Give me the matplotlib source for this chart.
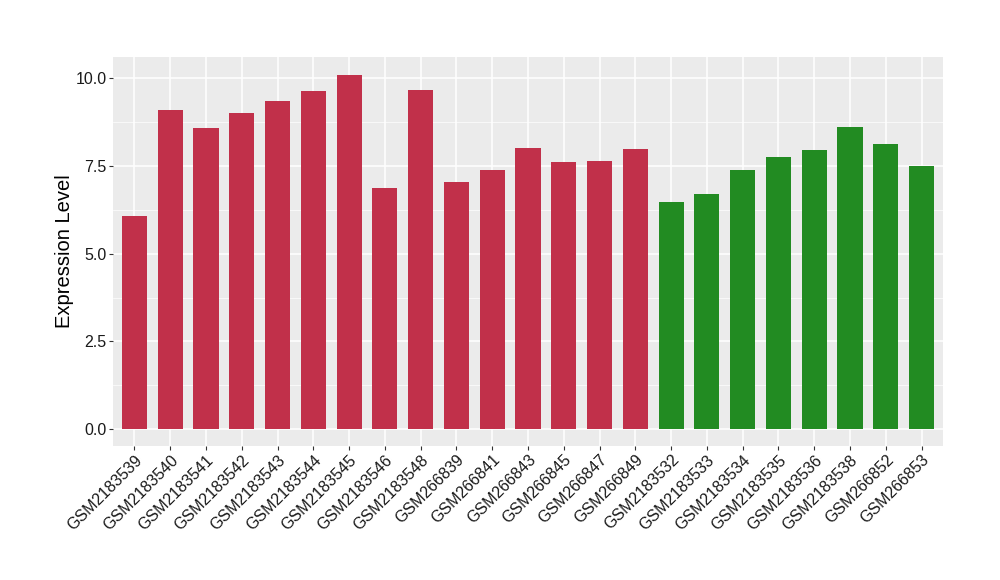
import matplotlib
matplotlib.use("Agg")
import matplotlib.pyplot as plt
import numpy as np

plt.rcParams['font.family'] = ['Liberation Sans', 'DejaVu Sans']

samples = ["GSM2183539", "GSM2183540", "GSM2183541", "GSM2183542", "GSM2183543",
           "GSM2183544", "GSM2183545", "GSM2183546", "GSM2183548", "GSM266839",
           "GSM266841", "GSM266843", "GSM266845", "GSM266847", "GSM266849",
           "GSM2183532", "GSM2183533", "GSM2183534", "GSM2183535", "GSM2183536",
           "GSM2183538", "GSM266852", "GSM266853"]
values = [6.07, 9.08, 8.57, 9.0, 9.36, 9.62, 10.1, 6.86, 9.65, 7.03,
          7.37, 8.02, 7.6, 7.65, 7.97,
          6.46, 6.69, 7.37, 7.74, 7.94, 8.62, 8.11, 7.51]
groups = ["a"] * 15 + ["b"] * 8
group_colors = {"a": "#C1304A", "b": "#228B22"}

fig = plt.figure(figsize=(10, 5.8), dpi=100)
ax = fig.add_axes([0.113, 0.231, 0.83, 0.6707])
ax.set_facecolor("#EBEBEB")

x = np.arange(len(samples))
ax.bar(x, values, width=0.7, color=[group_colors[g] for g in groups], zorder=3)

ax.set_xlim(-0.6, len(samples) - 0.4)
ax.set_ylim(-0.48, 10.6)
ax.set_yticks([0, 2.5, 5, 7.5, 10])
ax.set_yticklabels(["0.0", "2.5", "5.0", "7.5", "10.0"])
ax.set_yticks([1.25, 3.75, 6.25, 8.75], minor=True)
ax.set_xticks(x)
ax.set_xticklabels(samples, rotation=45, ha="right", va="top", rotation_mode="anchor")

ax.grid(True, which="major", color="white", linewidth=1.1, zorder=0)
ax.grid(True, which="minor", axis="y", color="white", linewidth=0.5, zorder=0)
ax.set_axisbelow(True)
for s in ax.spines.values():
    s.set_visible(False)
ax.tick_params(axis="both", which="major", length=3, color="#333333",
               labelsize=11.5, labelcolor="#1a1a1a", pad=1.5)
ax.tick_params(axis="y", which="minor", length=0)

ax.set_ylabel("Expression Level", fontsize=14.5)
ax.yaxis.set_label_coords(-0.047, 0.5)

fig.savefig("out.png", dpi=100)
